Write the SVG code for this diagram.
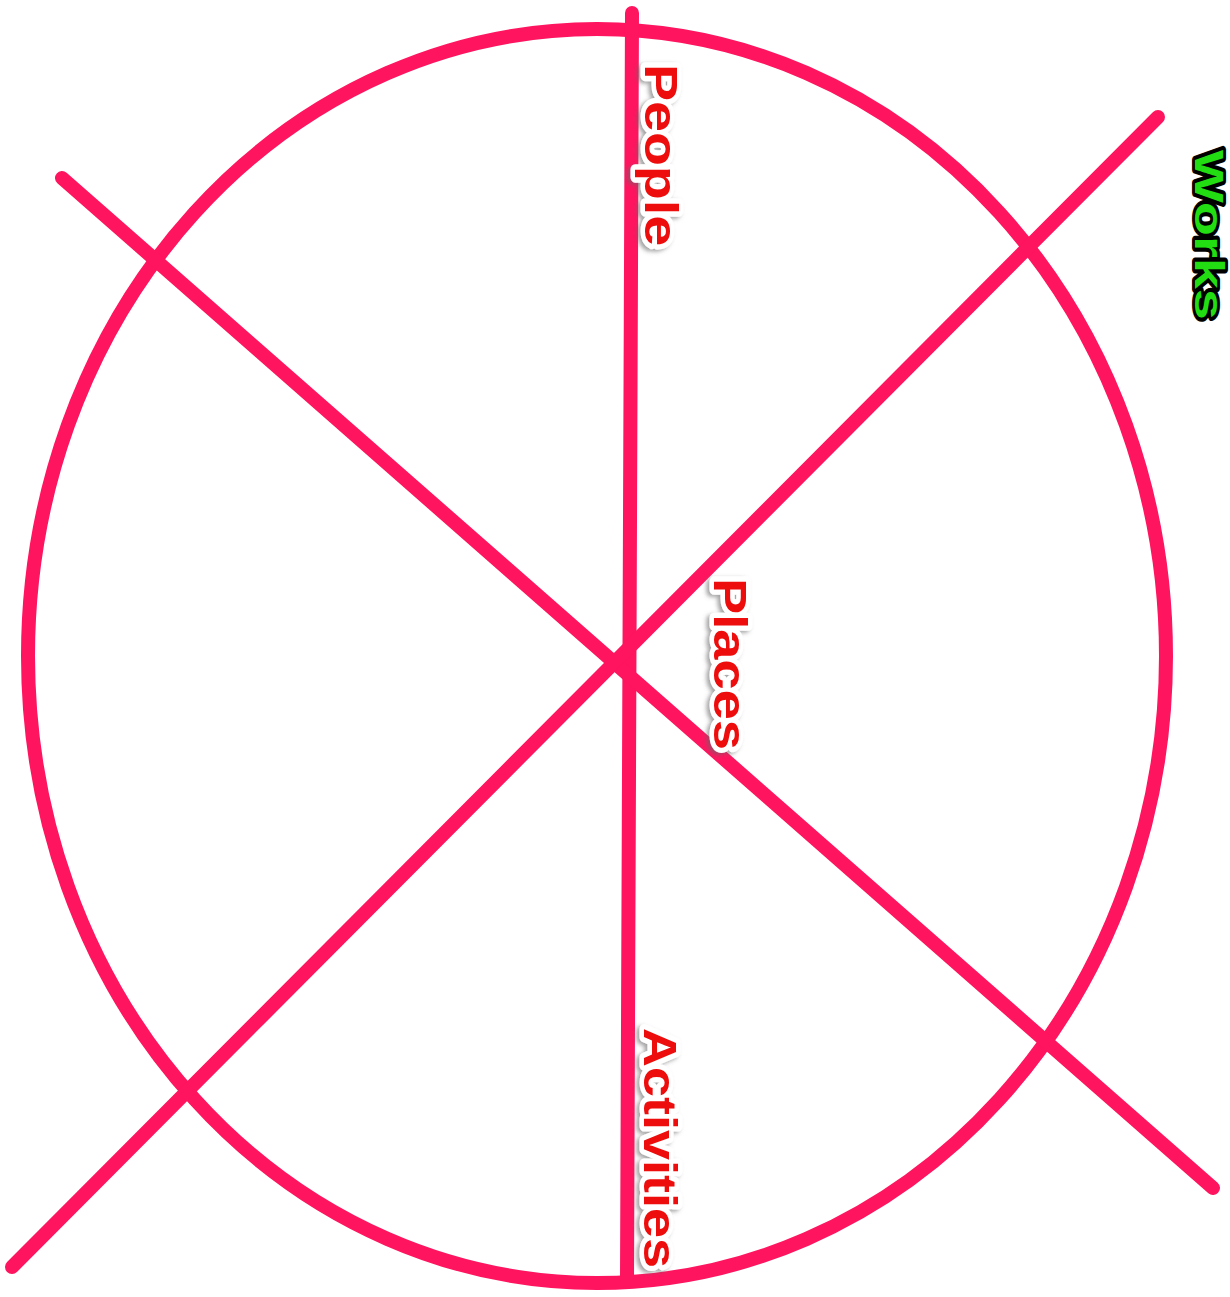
<svg xmlns="http://www.w3.org/2000/svg" width="1230" height="1297" viewBox="0 0 1230 1297">
<style>
.ln{stroke:#FF145F;stroke-width:14;stroke-linecap:round;fill:none}
.lbl{font-family:"Liberation Sans",Arial,sans-serif;font-weight:bold;font-size:46px;fill:#EE0A0A;stroke:#FFFFFF;stroke-width:9;stroke-linejoin:round;paint-order:stroke}
.grn{font-family:"Liberation Sans",Arial,sans-serif;font-weight:bold;font-size:40px;fill:#22DD11;stroke:#000000;stroke-width:6;stroke-linejoin:round;paint-order:stroke}
</style>
<defs>
<filter id="sh" x="-20%" y="-20%" width="140%" height="140%">
<feDropShadow dx="-3" dy="2" stdDeviation="2" flood-color="#666" flood-opacity="0.6"/>
</filter>
</defs>
<rect width="1230" height="1297" fill="#FFFFFF"/>
<g id="connectors">
<ellipse class="ln" cx="597" cy="656" rx="569" ry="627"/>
<line class="ln" x1="632" y1="13" x2="627" y2="1280"/>
<line class="ln" x1="62" y1="178" x2="1213" y2="1188"/>
<line class="ln" x1="1158" y1="117" x2="12" y2="1267"/>
</g>
<g id="people" filter="url(#sh)">
<text class="lbl" transform="translate(645,64) rotate(90)" textLength="182" lengthAdjust="spacingAndGlyphs">People</text>
</g>
<g id="places" filter="url(#sh)">
<text class="lbl" transform="translate(714,578) rotate(90)" textLength="172" lengthAdjust="spacingAndGlyphs">Places</text>
</g>
<g id="activities" filter="url(#sh)">
<text class="lbl" transform="translate(644,1028) rotate(90)" textLength="240" lengthAdjust="spacingAndGlyphs">Activities</text>
</g>
<g id="works">
<text class="grn" transform="translate(1195,150) rotate(90)" textLength="170" lengthAdjust="spacingAndGlyphs">Works</text>
</g>
</svg>
